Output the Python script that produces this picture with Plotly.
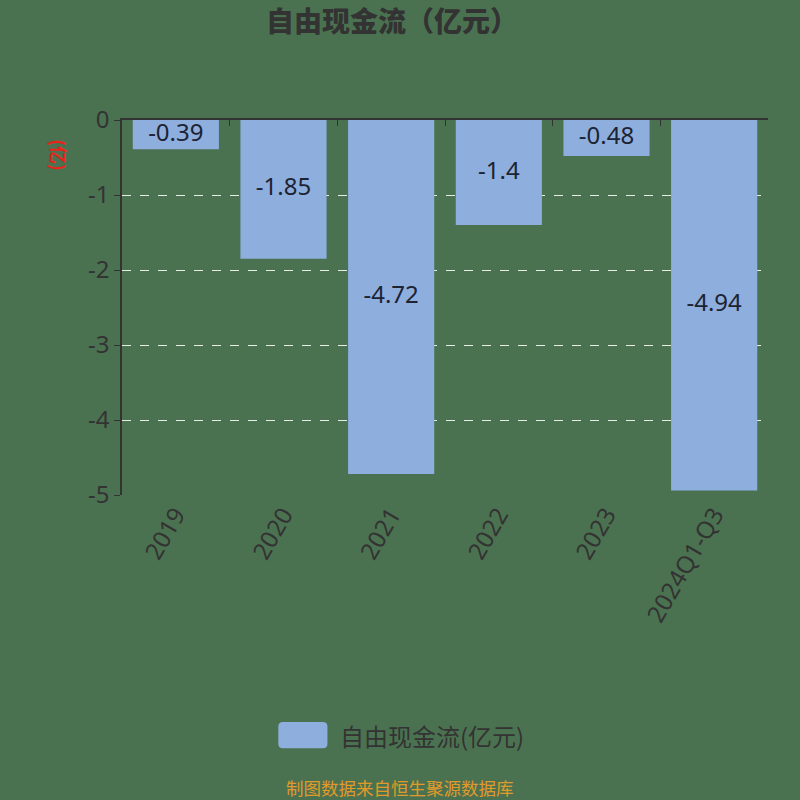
import plotly.graph_objects as go

# 自由现金流 data (亿元)
years = ["2019", "2020", "2021", "2022", "2023", "2024Q1-Q3"]
fcf = [-0.39, -1.85, -4.72, -1.4, -0.48, -4.94]
y_ticks = [0, -1, -2, -3, -4, -5]
series_name = "自由现金流(亿元)"

bg = "#4b7250"
bar_color = "#8eaedd"
text_dark = "#333333"

fig = go.Figure()

fig.add_trace(go.Bar(
    x=years,
    y=fcf,
    name=series_name,
    marker=dict(color=bar_color, line=dict(width=0)),
    width=0.8,
    showlegend=False,
))

# value labels in the middle of each bar (plotly shrinks inside text, so draw them as text)
fig.add_trace(go.Scatter(
    x=years,
    y=[v / 2 for v in fcf],
    mode="text",
    text=[str(v) for v in fcf],
    textposition="middle center",
    textfont=dict(size=24, color="#1c2333", family="Noto Sans"),
    showlegend=False,
    hoverinfo="skip",
))

# invisible copy just to draw the top axis line with boundary ticks
fig.add_trace(go.Bar(
    x=years,
    y=fcf,
    xaxis="x2",
    marker=dict(color="rgba(0,0,0,0)", line=dict(width=0)),
    showlegend=False,
    hoverinfo="skip",
))

# rounded legend swatch in paper coords
sx0, sx1, sy0, sy1 = 0.242, 0.318, -0.675, -0.605
rx, ry = 0.007, 0.012
swatch_path = (
    f"M {sx0+rx},{sy1} L {sx1-rx},{sy1} Q {sx1},{sy1} {sx1},{sy1-ry} "
    f"L {sx1},{sy0+ry} Q {sx1},{sy0} {sx1-rx},{sy0} "
    f"L {sx0+rx},{sy0} Q {sx0},{sy0} {sx0},{sy0+ry} "
    f"L {sx0},{sy1-ry} Q {sx0},{sy1} {sx0+rx},{sy1} Z"
)

fig.update_layout(
    width=800,
    height=800,
    paper_bgcolor=bg,
    plot_bgcolor=bg,
    margin=dict(l=122, r=32, t=120, b=305),
    font=dict(family="Noto Sans CJK SC, Noto Sans", color=text_dark),
    title=dict(
        text="自由现金流（亿元）",
        x=0.49, xanchor="center",
        y=0.972, yanchor="middle",
        font=dict(size=28, color=text_dark, weight=900),
    ),
    barmode="overlay",
    xaxis=dict(
        type="category",
        range=[-0.5, 5.5],
        tickangle=-60,
        tickfont=dict(size=24, color=text_dark, family="Noto Sans"),
        showgrid=False,
        showline=False,
        ticks="",
    ),
    xaxis2=dict(
        type="category",
        overlaying="x",
        side="top",
        range=[-0.5, 5.5],
        showticklabels=False,
        showgrid=False,
        showline=True,
        linecolor=text_dark,
        linewidth=1.5,
        ticks="inside",
        tickson="boundaries",
        ticklen=6,
        tickcolor=text_dark,
    ),
    yaxis=dict(
        range=[-5, 0],
        tickvals=y_ticks,
        ticktext=[str(v) for v in y_ticks],
        tickfont=dict(size=24, color=text_dark, family="Noto Sans"),
        showline=True,
        linecolor=text_dark,
        linewidth=1.5,
        ticks="outside",
        ticklen=6,
        tickcolor=text_dark,
        showgrid=True,
        gridcolor="#e6eee6",
        griddash="dash",
        gridwidth=1.2,
        zeroline=False,
    ),
    shapes=[
        dict(
            type="path",
            xref="paper", yref="paper",
            path=swatch_path,
            fillcolor=bar_color,
            line=dict(width=0),
        ),
    ],
    annotations=[
        dict(
            text=series_name,
            xref="paper", yref="paper",
            x=0.335, y=-0.64,
            xanchor="left", yanchor="middle",
            showarrow=False,
            font=dict(size=24, color=text_dark),
        ),
        dict(
            text="<b>(亿)</b>",
            xref="paper", yref="paper",
            x=-0.097, y=0.905,
            xanchor="center", yanchor="middle",
            showarrow=False,
            textangle=90,
            font=dict(size=18, color="#e8231a"),
        ),
        dict(
            text="制图数据来自恒生聚源数据库",
            xref="paper", yref="paper",
            x=0.43, y=-0.78,
            xanchor="center", yanchor="middle",
            showarrow=False,
            font=dict(size=17.5, color="#e09a2a"),
        ),
    ],
)

fig.write_html(
    "out.html",
    config={"displayModeBar": False},
    post_script="document.body.style.margin='0';document.body.style.overflow='hidden';",
)
